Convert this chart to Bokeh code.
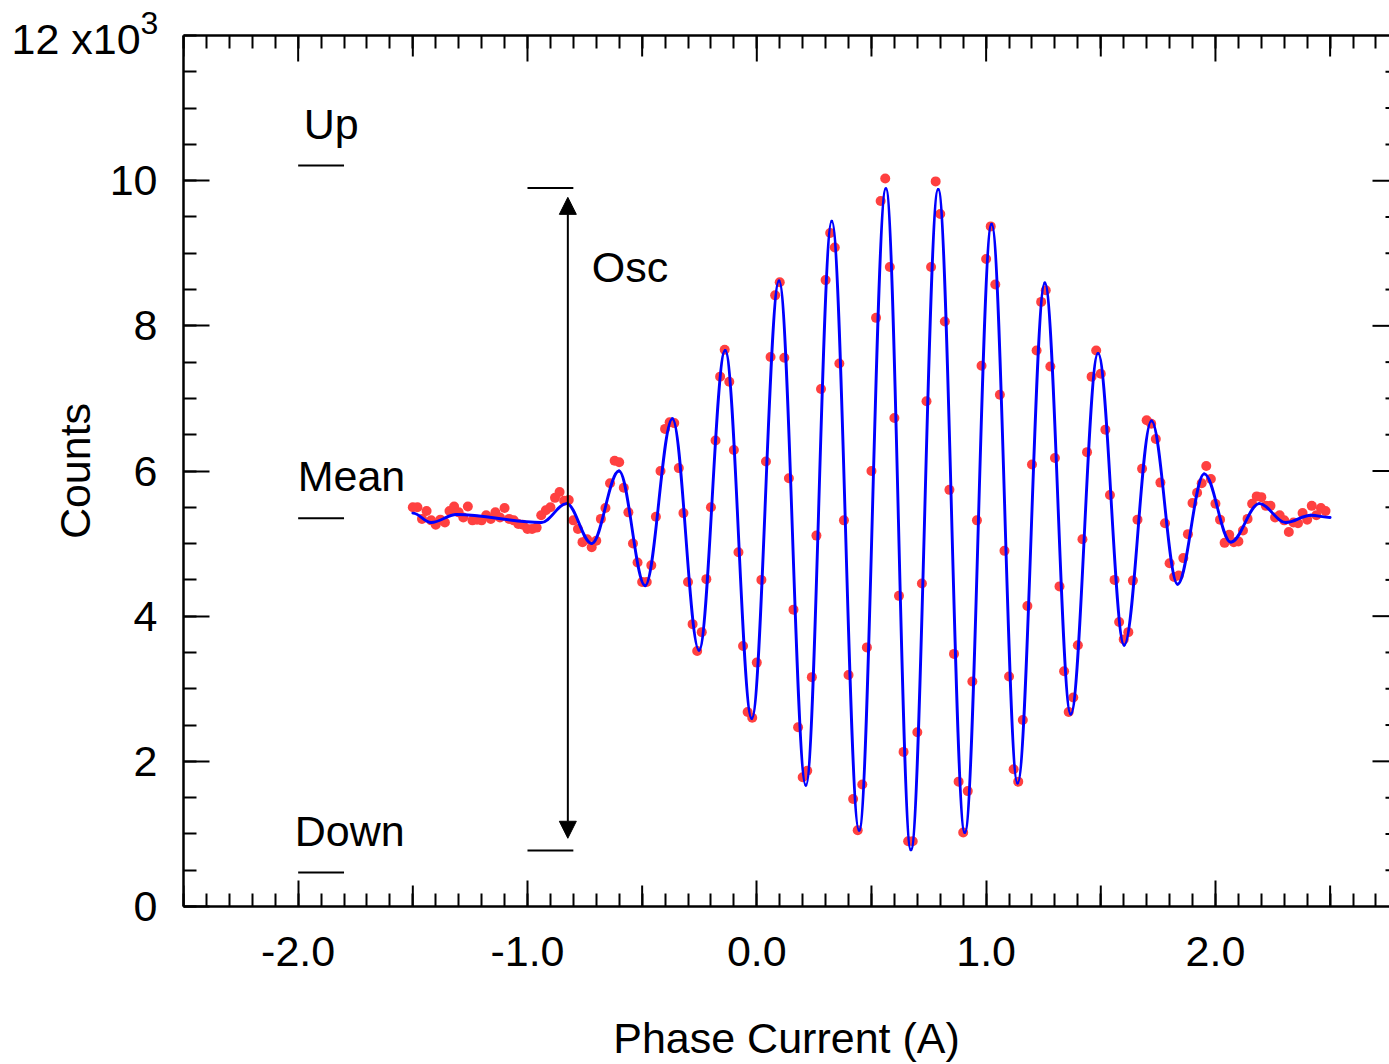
from bokeh.plotting import figure
from bokeh.models import (Range1d, LinearAxis, FixedTicker, PrintfTickFormatter,
                          Label, Arrow, NormalHead, ColumnDataSource, Title)
from bokeh.embed import file_html
from bokeh.resources import INLINE

# ---------------- data (counts in units of 10^3) ----------------
phase_current = [
    -1.50, -1.48, -1.46, -1.44, -1.42, -1.40, -1.38, -1.36, -1.34, -1.32,
    -1.30, -1.28, -1.26, -1.24, -1.22, -1.20, -1.18, -1.16, -1.14, -1.12,
    -1.10, -1.08, -1.06, -1.04, -1.02, -1.00, -0.98, -0.96, -0.94, -0.92,
    -0.90, -0.88, -0.86, -0.84, -0.82, -0.80, -0.78, -0.76, -0.74, -0.72,
    -0.70, -0.68, -0.66, -0.64, -0.62, -0.60, -0.58, -0.56, -0.54, -0.52,
    -0.50, -0.48, -0.46, -0.44, -0.42, -0.40, -0.38, -0.36, -0.34, -0.32,
    -0.30, -0.28, -0.26, -0.24, -0.22, -0.20, -0.18, -0.16, -0.14, -0.12,
    -0.10, -0.08, -0.06, -0.04, -0.02, 0.00, 0.02, 0.04, 0.06, 0.08,
    0.10, 0.12, 0.14, 0.16, 0.18, 0.20, 0.22, 0.24, 0.26, 0.28,
    0.30, 0.32, 0.34, 0.36, 0.38, 0.40, 0.42, 0.44, 0.46, 0.48,
    0.50, 0.52, 0.54, 0.56, 0.58, 0.60, 0.62, 0.64, 0.66, 0.68,
    0.70, 0.72, 0.74, 0.76, 0.78, 0.80, 0.82, 0.84, 0.86, 0.88,
    0.90, 0.92, 0.94, 0.96, 0.98, 1.00, 1.02, 1.04, 1.06, 1.08,
    1.10, 1.12, 1.14, 1.16, 1.18, 1.20, 1.22, 1.24, 1.26, 1.28,
    1.30, 1.32, 1.34, 1.36, 1.38, 1.40, 1.42, 1.44, 1.46, 1.48,
    1.50, 1.52, 1.54, 1.56, 1.58, 1.60, 1.62, 1.64, 1.66, 1.68,
    1.70, 1.72, 1.74, 1.76, 1.78, 1.80, 1.82, 1.84, 1.86, 1.88,
    1.90, 1.92, 1.94, 1.96, 1.98, 2.00, 2.02, 2.04, 2.06, 2.08,
    2.10, 2.12, 2.14, 2.16, 2.18, 2.20, 2.22, 2.24, 2.26, 2.28,
    2.30, 2.32, 2.34, 2.36, 2.38, 2.40, 2.42, 2.44, 2.46, 2.48,
]
counts = [
    5.50, 5.50, 5.34, 5.45, 5.32, 5.26, 5.33, 5.29, 5.45, 5.51,
    5.43, 5.36, 5.51, 5.32, 5.33, 5.32, 5.39, 5.34, 5.43, 5.36,
    5.49, 5.34, 5.32, 5.27, 5.26, 5.20, 5.20, 5.22, 5.39, 5.46,
    5.50, 5.63, 5.71, 5.59, 5.60, 5.32, 5.20, 5.02, 5.06, 4.95,
    5.04, 5.34, 5.49, 5.83, 6.14, 6.12, 5.77, 5.43, 5.00, 4.74,
    4.47, 4.47, 4.70, 5.37, 6.00, 6.58, 6.67, 6.66, 6.04, 5.42,
    4.47, 3.89, 3.52, 3.78, 4.51, 5.50, 6.42, 7.30, 7.67, 7.23,
    6.29, 4.88, 3.59, 2.68, 2.60, 3.36, 4.50, 6.13, 7.57, 8.42,
    8.60, 7.56, 5.90, 4.09, 2.47, 1.78, 1.87, 3.16, 5.11, 7.13,
    8.63, 9.28, 9.08, 7.48, 5.32, 3.19, 1.48, 1.05, 1.68, 3.57,
    6.00, 8.11, 9.72, 10.03, 8.81, 6.73, 4.28, 2.13, 0.90, 0.90,
    2.40, 4.45, 6.96, 8.81, 9.99, 9.54, 8.06, 5.74, 3.48, 1.72,
    1.02, 1.59, 3.10, 5.32, 7.45, 8.92, 9.37, 8.57, 7.05, 4.90,
    3.17, 1.89, 1.72, 2.57, 4.14, 6.09, 7.66, 8.33, 8.49, 7.44,
    6.18, 4.41, 3.24, 2.68, 2.88, 3.60, 5.06, 6.26, 7.30, 7.66,
    7.34, 6.57, 5.67, 4.50, 3.92, 3.68, 3.78, 4.49, 5.33, 6.03,
    6.70, 6.65, 6.44, 5.84, 5.28, 4.73, 4.54, 4.56, 4.80, 5.13,
    5.56, 5.70, 5.83, 6.07, 5.89, 5.55, 5.33, 5.01, 5.12, 5.02,
    5.03, 5.18, 5.34, 5.55, 5.65, 5.64, 5.52, 5.52, 5.36, 5.39,
    5.32, 5.16, 5.29, 5.28, 5.42, 5.33, 5.52, 5.39, 5.49, 5.45,
]

# fit curve: turning points (extrema)
fit_phase = [-1.50, -1.42, -1.31, -0.94, -0.829, -0.720, -0.601, -0.487, -0.368,
             -0.252, -0.138, -0.022, 0.097, 0.214, 0.327, 0.446, 0.563, 0.672,
             0.791, 0.907, 1.024, 1.137, 1.256, 1.369, 1.488, 1.602, 1.721,
             1.835, 1.951, 2.067, 2.191, 2.307, 2.416, 2.50]
fit_counts = [5.42, 5.29, 5.40, 5.29, 5.55, 5.00, 6.00, 4.42, 6.72,
              3.53, 7.66, 2.59, 8.62, 1.67, 9.44, 1.05, 9.89, 0.78,
              9.88, 1.02, 9.40, 1.70, 8.59, 2.65, 7.62, 3.60, 6.69,
              4.44, 5.96, 5.02, 5.55, 5.29, 5.39, 5.36]

level_names = ["Up", "Mean", "Down"]
level_values = [10.21, 5.35, 0.47]
osc_max = 9.90
osc_min = 0.77
osc_arrow_top = 9.77
osc_arrow_bottom = 0.94

x_ticks = [-2.0, -1.0, 0.0, 1.0, 2.0]
y_ticks = [0, 2, 4, 6, 8, 10]
y_top_label = "12 x10"
y_top_exponent = "3"

# ---------------- figure ----------------
FONT = "Liberation Sans"
FS = "43px"
W, H = 1389, 1064
B_LEFT, B_TOP, B_BOTTOM = 183, 35, 158
X0, X1 = -2.5, 2.759
Y0, Y1 = 0, 12

p = figure(width=W, height=H,
           x_range=Range1d(X0, X1), y_range=Range1d(Y0, Y1),
           x_axis_type=None, y_axis_type=None,
           output_backend="svg", toolbar_location=None,
           min_border_left=B_LEFT, min_border_right=0,
           min_border_top=B_TOP, min_border_bottom=B_BOTTOM)
p.outline_line_color = None
p.background_fill_color = "white"
p.border_fill_color = "white"

frame_w = W - B_LEFT
frame_h = H - B_TOP - B_BOTTOM
dx_px = (X1 - X0) / frame_w
dy_px = (Y1 - Y0) / frame_h

x_minor = [round(-2.5 + 0.1 * i, 1) for i in range(53)]
y_minor = [0.5 * i for i in range(25)]


def style_axis(ax, major_in, minor_in):
    ax.major_tick_in = major_in
    ax.major_tick_out = 0
    ax.minor_tick_in = minor_in
    ax.minor_tick_out = 0
    ax.major_tick_line_width = 2
    ax.minor_tick_line_width = 2
    ax.major_tick_line_color = "black"
    ax.minor_tick_line_color = "black"
    ax.axis_line_width = 2.5
    ax.axis_line_color = "black"
    ax.major_label_text_font = FONT
    ax.major_label_text_font_size = FS
    ax.major_label_text_color = "black"
    ax.axis_label_text_font = FONT
    ax.axis_label_text_font_size = FS
    ax.axis_label_text_font_style = "normal"
    ax.axis_label_text_color = "black"


xb = LinearAxis(ticker=FixedTicker(ticks=x_ticks, minor_ticks=x_minor),
                formatter=PrintfTickFormatter(format="%.1f"),
                axis_label="Phase Current (A)")
style_axis(xb, 26, 13)
xb.major_label_standoff = 30
xb.axis_label_standoff = 45
p.add_layout(xb, "below")

# top spine with minor ticks only (no labels)
xt = LinearAxis(ticker=FixedTicker(ticks=[], minor_ticks=x_minor))
style_axis(xt, 26, 13)
xt.major_label_standoff = 0
p.add_layout(xt, "above")

yl = LinearAxis(ticker=FixedTicker(ticks=y_ticks, minor_ticks=y_minor),
                axis_label="Counts")
style_axis(yl, 26, 13)
yl.major_label_standoff = 26
yl.axis_label_standoff = 8
p.add_layout(yl, "left")

# multiplier label at the top of the y axis (placed in the top border)
t_exp = Title(text=y_top_exponent, align="left", vertical_align="top",
              offset=-43, standoff=0.4, text_font=FONT, text_font_size="32px",
              text_font_style="normal", text_color="black")
p.add_layout(t_exp, "above")
t_mult = Title(text=y_top_label, align="left", vertical_align="bottom",
               offset=-172, standoff=-102, text_font=FONT, text_font_size=FS,
               text_font_style="normal", text_color="black")
p.add_layout(t_mult, "above")

# longer tick marks: integer/half units on top, majors & minors on the right edge
half = [i + 0.5 for i in range(-3, 3)]
top_x = x_ticks + half
top_len = [26 * dy_px] * len(x_ticks) + [21 * dy_px] * len(half)
p.segment(x0=top_x, x1=top_x, y0=[Y1] * len(top_x),
          y1=[Y1 - L for L in top_len], line_color="black", line_width=2)
bot_len = 21 * dy_px
p.segment(x0=half, x1=half, y0=[Y0] * len(half), y1=[Y0 + bot_len] * len(half),
          line_color="black", line_width=2)
right_y = [v for v in y_minor if 0 < v < 12]
right_len = [(17 if v in y_ticks else 4) * dx_px for v in right_y]
p.segment(x0=[X1] * len(right_y), x1=[X1 - L for L in right_len],
          y0=right_y, y1=right_y, line_color="black", line_width=2)

# ---------------- data glyphs ----------------
p.scatter(phase_current, counts, size=10, fill_color="#ff4040",
          line_color=None)

k = 0.36
x0 = fit_phase[:-1]
x1 = fit_phase[1:]
y0 = fit_counts[:-1]
y1 = fit_counts[1:]
bez = ColumnDataSource(dict(
    x0=x0, y0=y0, x1=x1, y1=y1,
    cx0=[a + k * (b - a) for a, b in zip(x0, x1)], cy0=y0,
    cx1=[b - k * (b - a) for a, b in zip(x0, x1)], cy1=y1,
))
p.bezier(x0="x0", y0="y0", x1="x1", y1="y1", cx0="cx0", cy0="cy0",
         cx1="cx1", cy1="cy1", source=bez, line_color="#0000ff",
         line_width=2.9, line_cap="round")

# ---------------- annotations ----------------
p.segment(x0=[-2.0] * 3, x1=[-1.8] * 3, y0=level_values, y1=level_values,
          line_color="black", line_width=2)
p.segment(x0=[-1.0, -1.0], x1=[-0.8, -0.8], y0=[osc_max, osc_min],
          y1=[osc_max, osc_min], line_color="black", line_width=2)

label_pos = {"Up": (-1.976, 10.774), "Mean": (-2.002, 5.934), "Down": (-2.015, 1.034)}
for name in level_names:
    lx, ly = label_pos[name]
    p.add_layout(Label(x=lx, y=ly, text=name, text_font=FONT, text_font_size=FS,
                       text_color="black", text_baseline="alphabetic"))
p.add_layout(Label(x=-0.720, y=8.814, text="Osc", text_font=FONT, text_font_size=FS,
                   text_color="black", text_baseline="alphabetic"))

p.add_layout(Arrow(x_start=-0.824, y_start=osc_arrow_bottom,
                   x_end=-0.824, y_end=osc_arrow_top,
                   line_color="black", line_width=2,
                   start=NormalHead(size=17, fill_color="black", line_color="black"),
                   end=NormalHead(size=17, fill_color="black", line_color="black")))

open("out.html", "w").write(file_html(p, INLINE))
